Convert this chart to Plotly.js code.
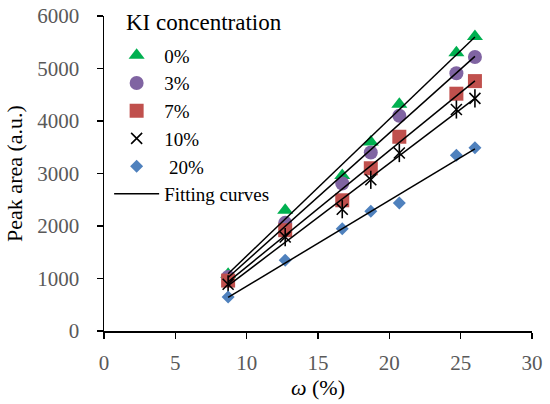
<!DOCTYPE html>
<html>
<head>
<meta charset="utf-8">
<script src="https://cdn.plot.ly/plotly-3.0.1.min.js"></script>
<style>html,body{margin:0;padding:0;background:#fff;}#chart{width:550px;height:404px;}</style>
</head>
<body>
<div id="chart"></div>
<script>
// Data
var omega = [8.7, 12.7, 16.7, 18.7, 20.7, 24.7, 26.0];
var ki0  = [1080, 2300, 2960, 3600, 4320, 5300, 5610];
var ki3  = [1030, 2060, 2810, 3400, 4100, 4910, 5220];
var ki7  = [960, 1920, 2490, 3100, 3700, 4520, 4760];
var ki10 = [890, 1790, 2320, 2880, 3390, 4220, 4430];
var ki20 = [650, 1350, 1950, 2280, 2440, 3350, 3490];
var seriesNames = ['0%', '3%', '7%', '10%', '\u00A020%'];
// Fitting lines: end points
var fitX   = [8.7, 26.0];
var fit0   = [1090, 5600];
var fit3   = [1020, 5230];
var fit7   = [935, 4765];
var fit10  = [865, 4430];
var fit20  = [640, 3470];
var xTicks = [0, 5, 10, 15, 20, 25, 30];
var yTicks = [0, 1000, 2000, 3000, 4000, 5000, 6000];

var FONT = 'Liberation Serif';

var traces = [
  {x: omega, y: ki0, name: seriesNames[0], mode: 'markers', type: 'scatter',
   marker: {symbol: 'triangle-up', size: 14, color: '#00B050'}},
  {x: omega, y: ki3, name: seriesNames[1], mode: 'markers', type: 'scatter',
   marker: {symbol: 'circle', size: 14, color: '#8064A2'}},
  {x: omega, y: ki7, name: seriesNames[2], mode: 'markers', type: 'scatter',
   marker: {symbol: 'square', size: 14, color: '#C0504D'}},
  {x: omega, y: ki10, name: seriesNames[3], mode: 'markers', type: 'scatter', legendgroup: 'k10',
   marker: {symbol: 'x-thin-open', size: 11, color: '#000', line: {width: 1.6, color: '#000'}}},
  {x: omega, y: ki10, name: seriesNames[3], mode: 'markers', type: 'scatter', legendgroup: 'k10', showlegend: false,
   marker: {symbol: 'line-ns-open', size: 13, color: '#000', line: {width: 1.6, color: '#000'}}},
  {x: omega, y: ki20, name: seriesNames[4], mode: 'markers', type: 'scatter',
   marker: {symbol: 'diamond', size: 10, color: '#4F81BD'}}
];
var fits = [fit0, fit3, fit7, fit10, fit20];
fits.forEach(function (f, i) {
  traces.push({x: fitX, y: f, mode: 'lines', type: 'scatter', name: 'Fitting curves',
    legendgroup: 'fit', showlegend: i === 0, line: {color: '#000', width: 1.5}});
});

var layout = {
  width: 550, height: 404,
  margin: {l: 104, r: 18, t: 16, b: 73},
  paper_bgcolor: '#fff', plot_bgcolor: '#fff',
  font: {family: FONT, size: 21, color: '#000'},
  showlegend: true,
  legend: {x: 0.012, y: 0.935, xanchor: 'left', yanchor: 'top', bgcolor: 'rgba(0,0,0,0)',
    font: {family: FONT, size: 19, color: '#000'}, itemwidth: 45, tracegroupgap: 0},
  xaxis: {range: [0, 30], tickvals: xTicks, ticks: 'outside', ticklen: 6, tickwidth: 1.4, tickcolor: '#000',
    showline: true, linecolor: '#000', linewidth: 1.5, showgrid: false, zeroline: false,
    tickfont: {family: FONT, size: 21, color: '#595959'}, ticklabelstandoff: 6,
    title: {text: '<i>ω</i> (%)', font: {family: FONT, size: 22, color: '#000'}, standoff: 0}},
  yaxis: {range: [0, 6000], tickvals: yTicks, ticks: 'outside', ticklen: 6, tickwidth: 1.4, tickcolor: '#000',
    showline: true, linecolor: '#000', linewidth: 1.5, showgrid: false, zeroline: false,
    tickfont: {family: FONT, size: 21, color: '#595959'}, ticklabelstandoff: 13,
    title: {text: 'Peak area (a.u.)', font: {family: FONT, size: 22, color: '#000'}, standoff: 8}},
  annotations: [{text: 'KI concentration', xref: 'paper', yref: 'paper', x: 0.046, y: 0.98,
    xanchor: 'left', yanchor: 'middle', showarrow: false, font: {family: FONT, size: 23, color: '#000'}}]
};

Plotly.newPlot('chart', traces, layout, {displayModeBar: false, staticPlot: true});
</script>
</body>
</html>
